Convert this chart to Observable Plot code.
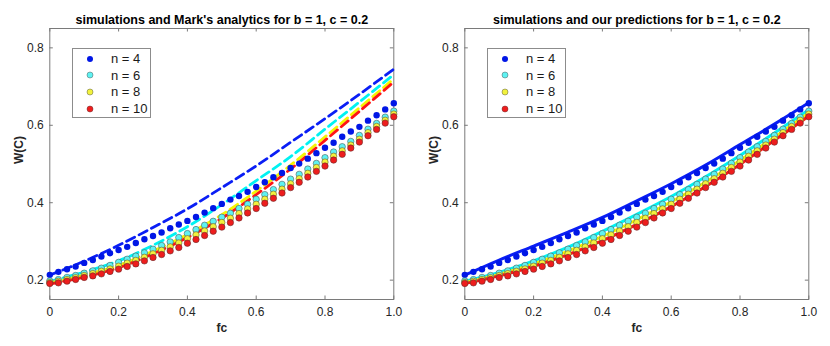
<!DOCTYPE html>
<html>
<head>
<meta charset="utf-8">
<script src="https://cdn.jsdelivr.net/npm/d3@7"></script>
<script src="https://cdn.jsdelivr.net/npm/@observablehq/plot@0.6"></script>
<style>
  html, body { margin: 0; padding: 0; background: #fff; }
  #wrap { position: relative; width: 830px; height: 346px; display: flex; font-family: "Liberation Sans", Arial, Helvetica, sans-serif; }
  .panel { position: relative; width: 415px; height: 346px; }
  .legend { position: absolute; left: 72px; top: 48px; width: 79px; height: 70px; border: 1px solid #8c8c8c; background: #fff; box-sizing: border-box; }
  .legend .row { position: absolute; left: 0; width: 79px; height: 16px; display: flex; align-items: center; font-size: 13px; color: #1a1a1a; white-space: nowrap; }
  .legend svg { margin-left: 13px; margin-right: 17px; flex: none; }
</style>
</head>
<body>
<div id="wrap"></div>
<script>
// ---- data ----
const fc = [0, 0.025, 0.05, 0.075, 0.1, 0.125, 0.15, 0.175, 0.2, 0.225, 0.25, 0.275, 0.3, 0.325, 0.35, 0.375, 0.4, 0.425, 0.45, 0.475, 0.5, 0.525, 0.55, 0.575, 0.6, 0.625, 0.65, 0.675, 0.7, 0.725, 0.75, 0.775, 0.8, 0.825, 0.85, 0.875, 0.9, 0.925, 0.95, 0.975, 1.0];
const sim4 = [0.2137, 0.2214, 0.228, 0.235, 0.2446, 0.252, 0.261, 0.2696, 0.278, 0.286, 0.296, 0.3057, 0.314, 0.323, 0.334, 0.3436, 0.353, 0.363, 0.3745, 0.3857, 0.397, 0.408, 0.4175, 0.428, 0.4406, 0.4527, 0.4656, 0.4767, 0.4896, 0.501, 0.5138, 0.528, 0.542, 0.555, 0.5705, 0.584, 0.596, 0.612, 0.626, 0.641, 0.657];
const sim6 = [0.198, 0.2015, 0.207, 0.212, 0.218, 0.224, 0.231, 0.238, 0.246, 0.254, 0.262, 0.2705, 0.28, 0.2894, 0.2988, 0.31, 0.3203, 0.3307, 0.3418, 0.352, 0.3625, 0.3728, 0.385, 0.396, 0.4089, 0.421, 0.4339, 0.4475, 0.461, 0.4733, 0.487, 0.5017, 0.5164, 0.531, 0.5447, 0.5584, 0.5739, 0.59, 0.6048, 0.621, 0.6366];
const sim8 = [0.194, 0.197, 0.2017, 0.2064, 0.212, 0.217, 0.223, 0.229, 0.236, 0.244, 0.251, 0.259, 0.268, 0.277, 0.286, 0.296, 0.307, 0.317, 0.327, 0.338, 0.349, 0.36, 0.372, 0.384, 0.396, 0.409, 0.422, 0.435, 0.449, 0.462, 0.476, 0.491, 0.505, 0.52, 0.534, 0.549, 0.564, 0.581, 0.597, 0.613, 0.629];
const sim10 = [0.1914, 0.193, 0.1974, 0.2018, 0.207, 0.211, 0.2162, 0.2224, 0.2284, 0.2353, 0.242, 0.2498, 0.2585, 0.2662, 0.2756, 0.2843, 0.2954, 0.305, 0.3153, 0.3264, 0.337, 0.3487, 0.3607, 0.3736, 0.385, 0.3986, 0.4115, 0.4251, 0.439, 0.4527, 0.4664, 0.481, 0.4947, 0.5102, 0.525, 0.5412, 0.5566, 0.573, 0.5894, 0.6056, 0.622];

const fcLine = [0, 0.1, 0.2, 0.3, 0.4, 0.5, 0.6, 0.7, 0.8, 0.9, 1.0];
// Mark's analytics (dashed, left panel)
const mark4 = [0.213, 0.249, 0.290, 0.336, 0.384, 0.439, 0.495, 0.556, 0.617, 0.680, 0.745];
const mark6 = [0.197, 0.221, 0.250, 0.290, 0.338, 0.395, 0.457, 0.519, 0.590, 0.660, 0.731];
const mark8 = [0.193, 0.213, 0.238, 0.275, 0.318, 0.369, 0.430, 0.497, 0.570, 0.645, 0.720];
const mark10 = [0.190, 0.208, 0.232, 0.268, 0.310, 0.360, 0.421, 0.487, 0.561, 0.636, 0.712];
// our predictions (solid, right panel)
const pred4 = [0.213, 0.252, 0.288, 0.324, 0.362, 0.405, 0.449, 0.497, 0.550, 0.603, 0.658];
const pred6 = [0.197, 0.220, 0.250, 0.285, 0.326, 0.370, 0.416, 0.467, 0.522, 0.580, 0.640];
const pred8 = [0.194, 0.215, 0.242, 0.275, 0.313, 0.356, 0.402, 0.453, 0.509, 0.569, 0.632];
const pred10 = [0.191, 0.211, 0.236, 0.266, 0.302, 0.344, 0.390, 0.442, 0.499, 0.561, 0.624];

const seriesNames = ["n = 4", "n = 6", "n = 8", "n = 10"];
const xTicks = [0, 0.2, 0.4, 0.6, 0.8, 1.0];
const xTickLabels = ["0", "0.2", "0.4", "0.6", "0.8", "1.0"];
const yTicks = [0.2, 0.4, 0.6, 0.8];
const yTickLabels = ["0.2", "0.4", "0.6", "0.8"];
const titles = ["simulations and Mark's analytics for b = 1, c = 0.2", "simulations and our predictions for b = 1, c = 0.2"];
const xLabel = "fc";
const yLabel = "W(C)";

// ---- styles ----
const dotFill = ["#0016e6", "#5ef2f2", "#f2f23c", "#ee1d1d"];
const dotStroke = ["#0016e6", "#4a5c5c", "#5c5c3c", "#6a2a2a"];
const lineColor = ["#0a1ef5", "#00f2f2", "#f5f500", "#ff1414"];
const FONT = "Liberation Sans, Arial, Helvetica, sans-serif";

const sims = [sim4, sim6, sim8, sim10];
const marks = [mark4, mark6, mark8, mark10];
const preds = [pred4, pred6, pred8, pred10];

const W = 415, H = 346, ML = 49.3, MR = 21.7, MT = 28, MB = 47;
const FW = W - ML - MR, FH = H - MT - MB;

function panel(curves, dashed, title) {
  const lineMarks = curves.map((arr, k) =>
    Plot.line(fcLine.map((f, i) => ({f, w: arr[i]})), {
      x: "f", y: "w", stroke: lineColor[k], strokeWidth: dashed ? 2.8 : 3,
      strokeDasharray: dashed ? "9,5" : null, curve: "catmull-rom"
    })
  );
  const dotMarks = sims.map((arr, k) =>
    Plot.dot(fc.map((f, i) => ({f, w: arr[i]})), {
      x: "f", y: "w", r: 3.2, fill: dotFill[k], stroke: dotStroke[k], strokeWidth: k === 0 ? 0 : 0.6
    })
  );
  return Plot.plot({
    width: W, height: H,
    marginLeft: ML, marginRight: MR, marginTop: MT, marginBottom: MB,
    style: {fontFamily: FONT, background: "transparent", overflow: "visible"},
    x: {domain: [0, 1], axis: null},
    y: {domain: [0.15, 0.85], axis: null},
    marks: [
      Plot.frame({stroke: "#7a7a7a", strokeWidth: 1}),
      // inward ticks
      Plot.tickX(xTicks, {x: d => d, stroke: "#7a7a7a", insetTop: FH - 3.5}),
      Plot.tickX(xTicks, {x: d => d, stroke: "#7a7a7a", insetBottom: FH - 3.5}),
      Plot.tickY(yTicks, {y: d => d, stroke: "#7a7a7a", insetRight: FW - 3.5}),
      Plot.tickY(yTicks, {y: d => d, stroke: "#7a7a7a", insetLeft: FW - 3.5}),
      ...lineMarks,
      ...dotMarks,
      // tick labels
      Plot.text(xTicks, {x: d => d, text: (d, i) => xTickLabels[i], frameAnchor: "bottom", dy: 12.7, lineAnchor: "middle", fontSize: 12, fill: "#262626"}),
      Plot.text(yTicks, {y: d => d, text: (d, i) => yTickLabels[i], frameAnchor: "left", dx: -6, textAnchor: "end", lineAnchor: "middle", fontSize: 12, fill: "#262626"}),
      // axis labels
      Plot.text([xLabel], {text: d => d, frameAnchor: "bottom", dy: 28.7, lineAnchor: "middle", fontSize: 12, fontWeight: "bold", fill: "#262626"}),
      Plot.text([yLabel], {text: d => d, frameAnchor: "left", dx: -31, rotate: -90, lineAnchor: "middle", fontSize: 12, fontWeight: "bold", fill: "#262626"}),
      // title
      Plot.text([title], {text: d => d, frameAnchor: "top", dy: -8.5, lineAnchor: "middle", fontSize: 12.5, fontWeight: "bold", fill: "#000"})
    ]
  });
}

function legend() {
  const box = document.createElement("div");
  box.className = "legend";
  const rowTops = [1.5, 18.2, 34.9, 51.6];
  seriesNames.forEach((name, k) => {
    const row = document.createElement("div");
    row.className = "row";
    row.style.top = rowTops[k] + "px";
    row.innerHTML = `<svg width="8" height="8"><circle cx="4" cy="4" r="3" fill="${dotFill[k]}" stroke="${dotStroke[k]}" stroke-width="${k === 0 ? 0 : 0.5}"/></svg><span>${name}</span>`;
    box.appendChild(row);
  });
  return box;
}

const wrap = document.getElementById("wrap");
[[marks, true, titles[0]], [preds, false, titles[1]]].forEach(([curves, dashed, title]) => {
  const p = document.createElement("div");
  p.className = "panel";
  p.appendChild(panel(curves, dashed, title));
  p.appendChild(legend());
  wrap.appendChild(p);
});
</script>
</body>
</html>
